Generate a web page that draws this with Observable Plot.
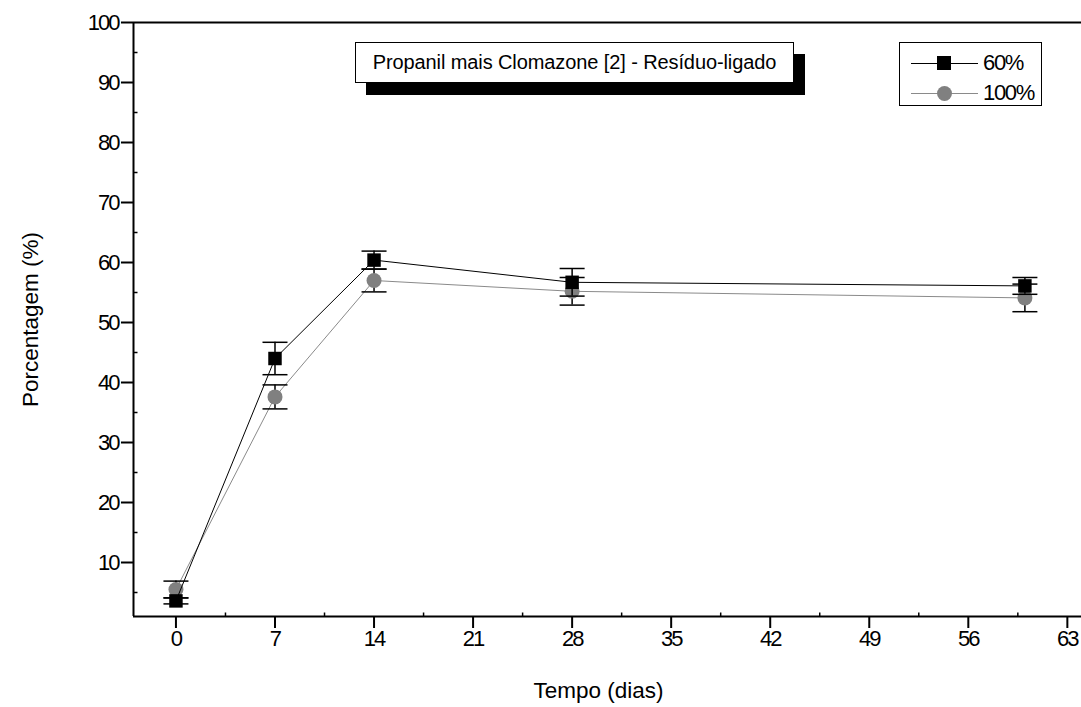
<!DOCTYPE html>
<html>
<head>
<meta charset="utf-8">
<script src="https://cdn.jsdelivr.net/npm/d3@7"></script>
<script src="https://cdn.jsdelivr.net/npm/@observablehq/plot@0.6"></script>
<style>
  html, body { margin: 0; padding: 0; background: #fff; }
  #wrap { position: relative; width: 1081px; height: 707px; overflow: hidden; font-family: "Liberation Sans", Arial, sans-serif; }
  #wrap svg g[aria-label="y-axis tick label"],
  #wrap svg g[aria-label="x-axis tick label"] { font-size: 22px; }
  #wrap svg g[aria-label="y-axis tick label"] text,
  #wrap svg g[aria-label="x-axis tick label"] text { font-size: 22px; letter-spacing: -2px; }
  #titlebox { position: absolute; left: 355px; top: 42px; width: 437px; height: 39px; border: 1px solid #000; background: #fff;
    box-shadow: 11px 12px 0 0 #000; font-size: 20px; letter-spacing: -0.1px; line-height: 39px; text-align: center; color: #000; }
  #legend { position: absolute; left: 899px; top: 42px; width: 141px; height: 62px; border: 1px solid #000; background: #fff; }
  .lrow { position: absolute; left: 0; height: 30px; width: 141px; }
  .lline { position: absolute; left: 11px; width: 67px; top: 14px; height: 0; }
  .lmark { position: absolute; }
  .ltext { position: absolute; left: 83px; top: 2px; font-size: 22px; letter-spacing: -1.3px; line-height: 24px; color: #000; }
</style>
</head>
<body>
<div id="wrap"></div>
<script>
// ---- data ----
const days = [0, 7, 14, 28, 60];
const pct60 = [3.6, 44.0, 60.4, 56.7, 56.1];
const err60 = [0.5, 2.7, 1.5, 2.3, 1.4];
const pct100 = [5.5, 37.6, 57.0, 55.2, 54.1];
const err100 = [1.4, 2.0, 1.9, 2.3, 2.3];
const seriesNames = ["60%", "100%"];
const xTicks = [0, 7, 14, 21, 28, 35, 42, 49, 56, 63];
const xMinor = [3.5, 10.5, 17.5, 24.5, 31.5, 38.5, 45.5, 52.5, 59.5];
const yTicks = [10, 20, 30, 40, 50, 60, 70, 80, 90, 100];
const yMinor = [5, 15, 25, 35, 45, 55, 65, 75, 85, 95];
const xDomain = [-3, 64];
const yDomain = [1, 100];
const chartTitle = "Propanil mais Clomazone [2] - Resíduo-ligado";
const xLabel = "Tempo (dias)";
const yLabel = "Porcentagem (%)";

const s60 = days.map((d, i) => ({x: d, y: pct60[i], e: err60[i]}));
const s100 = days.map((d, i) => ({x: d, y: pct100[i], e: err100[i]}));

const hCap = {draw(ctx) { ctx.moveTo(-12.5, 0); ctx.lineTo(12.5, 0); }};
const rightTick = {draw(ctx) { ctx.moveTo(0, 0); ctx.lineTo(4, 0); }};
const upTick = {draw(ctx) { ctx.moveTo(0, 0); ctx.lineTo(0, -4); }};

function errMarks(data) {
  return [
    Plot.ruleX(data, {x: "x", y1: d => d.y - d.e, y2: d => d.y + d.e, stroke: "#000", strokeWidth: 1.5}),
    Plot.dot(data, {x: "x", y: d => d.y + d.e, symbol: hCap, r: 5, fill: "none", stroke: "#000", strokeWidth: 1.5}),
    Plot.dot(data, {x: "x", y: d => d.y - d.e, symbol: hCap, r: 5, fill: "none", stroke: "#000", strokeWidth: 1.5})
  ];
}

const chart = Plot.plot({
  width: 1081,
  height: 707,
  marginLeft: 133,
  marginRight: 0,
  marginTop: 22,
  marginBottom: 91,
  style: {fontFamily: "'Liberation Sans', Arial, sans-serif", fontSize: "21px", color: "#000", background: "#fff", overflow: "visible"},
  x: {domain: xDomain},
  y: {domain: yDomain},
  marks: [
    Plot.axisY({ticks: yTicks, tickSize: 12, tickPadding: 3, fontSize: 22, strokeWidth: 2, label: null}),
    Plot.axisX({ticks: xTicks, tickSize: 12, tickPadding: 2, fontSize: 22, strokeWidth: 2, label: null}),
    Plot.dot(yMinor, {y: d => d, frameAnchor: "left", symbol: rightTick, r: 3, fill: "none", stroke: "#000", strokeWidth: 1.5}),
    Plot.dot(xMinor, {x: d => d, frameAnchor: "bottom", symbol: upTick, r: 3, fill: "none", stroke: "#000", strokeWidth: 1.5}),
    Plot.ruleX([xDomain[0]], {stroke: "#000", strokeWidth: 2}),
    Plot.ruleY([yDomain[1]], {stroke: "#000", strokeWidth: 2}),
    Plot.ruleY([yDomain[0]], {stroke: "#000", strokeWidth: 2}),
    // 100% series
    Plot.line(s100, {x: "x", y: "y", stroke: "#8a8a8a", strokeWidth: 1}),
    ...errMarks(s100),
    Plot.dot(s100, {x: "x", y: "y", symbol: "circle", r: 7.5, fill: "#808080", stroke: "none"}),
    // 60% series
    Plot.line(s60, {x: "x", y: "y", stroke: "#000", strokeWidth: 1}),
    ...errMarks(s60),
    Plot.dot(s60, {x: "x", y: "y", symbol: "square", r: 7.6, fill: "#000", stroke: "none"}),
    // axis titles
    Plot.text([yLabel], {text: d => d, frameAnchor: "left", textAnchor: "middle", lineAnchor: "middle", dx: -103, rotate: -90, fontSize: 22.5}),
    Plot.text([xLabel], {text: d => d, frameAnchor: "bottom", textAnchor: "middle", lineAnchor: "middle", dx: -9, dy: 74, fontSize: 22.5})
  ]
});

const wrap = document.getElementById("wrap");
wrap.appendChild(chart);

// title box
const tb = document.createElement("div");
tb.id = "titlebox";
tb.textContent = chartTitle;
wrap.appendChild(tb);

// legend
const lg = document.createElement("div");
lg.id = "legend";
const legendStyles = [
  {line: "1px solid #000", mark: "square", color: "#000"},
  {line: "1px solid #8a8a8a", mark: "circle", color: "#808080"}
];
seriesNames.forEach((name, i) => {
  const row = document.createElement("div");
  row.className = "lrow";
  row.style.top = (6 + i * 30) + "px";
  const ln = document.createElement("div");
  ln.className = "lline";
  ln.style.borderTop = legendStyles[i].line;
  row.appendChild(ln);
  const mk = document.createElement("div");
  mk.className = "lmark";
  const sz = legendStyles[i].mark === "square" ? 14 : 15;
  mk.style.width = sz + "px";
  mk.style.height = sz + "px";
  mk.style.left = (44 - sz / 2) + "px";
  mk.style.top = (14 - sz / 2) + "px";
  mk.style.background = legendStyles[i].color;
  if (legendStyles[i].mark === "circle") mk.style.borderRadius = "50%";
  row.appendChild(mk);
  const tx = document.createElement("div");
  tx.className = "ltext";
  tx.textContent = name;
  row.appendChild(tx);
  lg.appendChild(row);
});
wrap.appendChild(lg);
</script>
</body>
</html>
